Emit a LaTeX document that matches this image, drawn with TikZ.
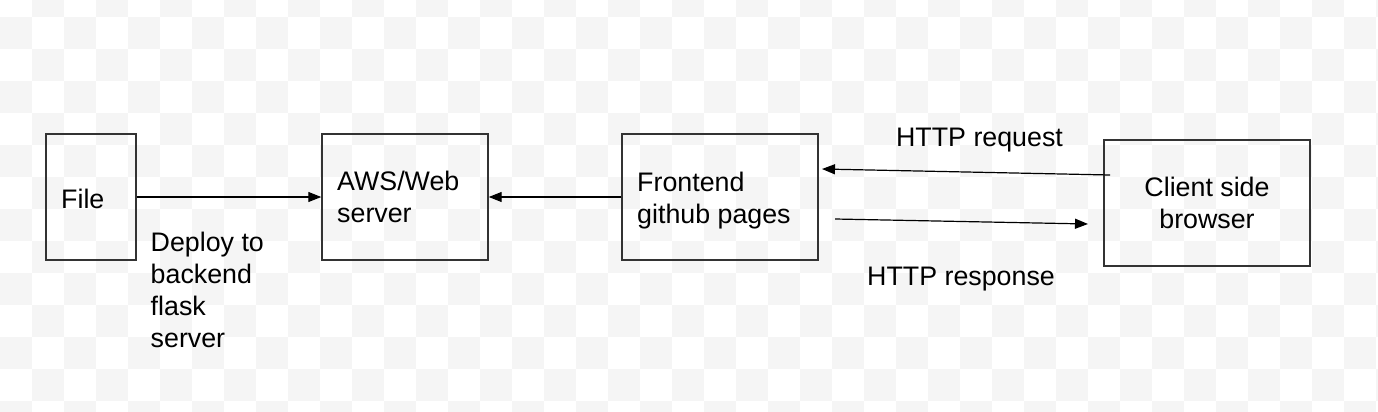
\documentclass[tikz,border=0pt]{standalone}
\usepackage{fontspec}
\setmainfont{Liberation Sans}
\usetikzlibrary{arrows.meta}
\definecolor{chk}{HTML}{F5F5F5}
\definecolor{edge}{HTML}{333333}
\begin{document}
\begin{tikzpicture}[x=1pt,y=-1pt,
  box/.style={draw=edge,line width=1.4pt,minimum width=#1,minimum height=126pt,inner sep=0pt},
  lbl/.style={anchor=base west,inner sep=0pt,align=left,font=\fontsize{26.8}{32}\selectfont},
  clbl/.style={anchor=base,inner sep=0pt,align=center,font=\fontsize{26.8}{32}\selectfont},
  conn/.style={draw=black,line width=1.2pt,-{Triangle[length=13pt,width=10pt]}}]
\useasboundingbox (0,0) rectangle (1378,412);
\begin{scope}
\clip (0,0) rectangle (1378,412);
\foreach \r in {0,...,13}{
  \foreach \c in {0,...,43}{
    \pgfmathtruncatemacro{\odd}{mod(\r+\c,2)}
    \ifnum\odd=1
      \fill[chk] (32*\c,-15+32*\r) rectangle ++(32,32);
    \fi
  }
}
\end{scope}
% boxes
\node[box=90pt]  (file)   at (91,197)   {};
\node[box=166pt] (aws)    at (405,197)  {};
\node[box=196pt] (front)  at (720,197)  {};
\node[box=206pt] (client) at (1207,203) {};
% labels (anchor = baseline of last line)
\node[lbl] (tfile)   at (61,208)  {File};
\node[lbl] (taws)    at (337,222) {AWS/Web\\server};
\node[lbl] (tfront)  at (637,223) {Frontend\\github pages};
\node[clbl] (tclient) at (1207,228) {Client side\\browser};
\node[lbl] (tdeploy) at (150.5,347) {Deploy to\\backend\\flask\\server};
\node[clbl] (treq)   at (979.5,146.5) {HTTP request};
\node[lbl] (tresp)   at (867,285) {HTTP response};
% connectors
\draw[conn] (file.east) -- (aws.west);
\draw[conn] (front.west) -- (aws.east);
\coordinate (reqs) at (1110,175);
\coordinate (reqe) at (822,169);
\coordinate (ress) at (835,219);
\coordinate (rese) at (1088,224);
\draw[conn] (reqs) -- (reqe);
\draw[conn] (ress) -- (rese);
\end{tikzpicture}
\end{document}
